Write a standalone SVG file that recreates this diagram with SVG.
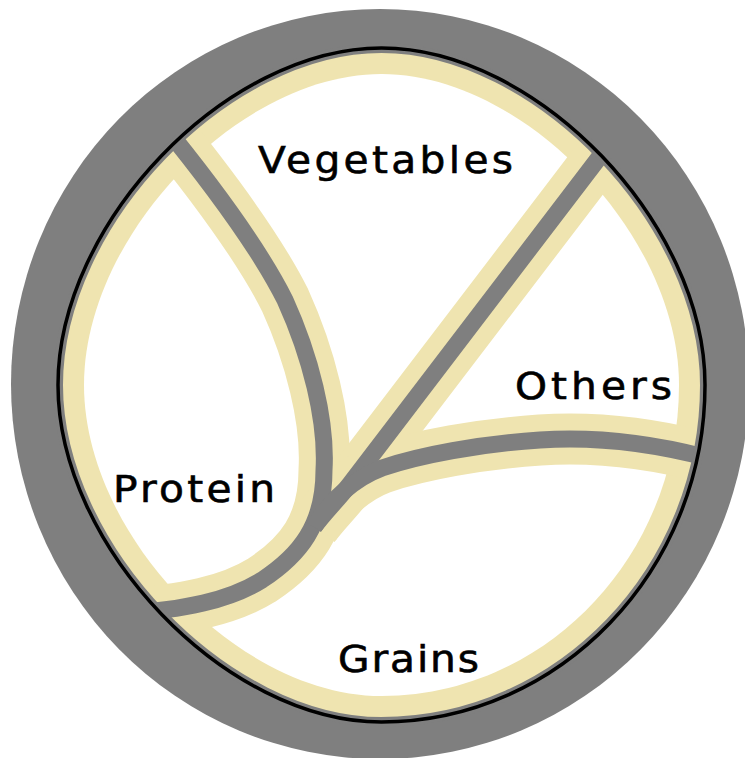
<svg xmlns="http://www.w3.org/2000/svg" width="745" height="758" viewBox="0 0 745 758">
<defs>
<style>
.ring{fill:#7f7f7f}
.plate{fill:#efe4b0}
.inner{fill:#fff}
.cream{fill:none;stroke:#efe4b0;stroke-width:51;stroke-linejoin:round}
.div{fill:none;stroke:#7f7f7f;stroke-width:17;stroke-linejoin:round}
.rim{fill:none;stroke:#7f7f7f;stroke-width:10}
.edge{fill:none;stroke:#000;stroke-width:3.5}
.label{font-family:"DejaVu Sans",Verdana,sans-serif;font-size:37px;fill:#000;stroke:#000;stroke-width:0.6}
</style>
<clipPath id="plateClip">
<path d="M58,385 C58,223.2 226.2,48 381.5,48 C536.8,48 705,223.2 705,385 C705,570.4 559.4,722 381.5,722 C226.2,722 58,546.8 58,385 Z"/>
</clipPath>
</defs>
<g id="plate">
<ellipse class="ring" cx="380" cy="384" rx="369" ry="375"/>
<path class="plate" d="M58,385 C58,223.2 226.2,48 381.5,48 C536.8,48 705,223.2 705,385 C705,570.4 559.4,722 381.5,722 C226.2,722 58,546.8 58,385 Z"/>
<path class="inner" d="M84,385 C84,235.7 238.7,74 381.5,74 C524.3,74 679,235.7 679,385 C679,556.1 545.1,696 381.5,696 C238.7,696 84,534.3 84,385 Z"/>
</g>
<g id="connectors" clip-path="url(#plateClip)">
<path class="cream" d="M160,121 C200,170 255,240 285,300 C310,355 327,420 324,470 C324,525 300,555 262,580 C230,600 185,610 120,614"/>
<path class="cream" d="M614,138 L350,484 C336,502 325,512 314,527"/>
<path class="cream" d="M712,459 C660,445 600,436 540,440 C480,444 420,455 382,468 C355,478 330,500 314,527"/>
<path class="div" d="M160,121 C200,170 255,240 285,300 C310,355 327,420 324,470 C324,525 300,555 262,580 C230,600 185,610 120,614"/>
<path class="div" d="M614,138 L350,484 C336,502 325,512 314,527"/>
<path class="div" d="M712,459 C660,445 600,436 540,440 C480,444 420,455 382,468 C355,478 330,500 314,527"/>
</g>
<g id="rim">
<path class="rim" d="M58,385 C58,223.2 226.2,48 381.5,48 C536.8,48 705,223.2 705,385 C705,570.4 559.4,722 381.5,722 C226.2,722 58,546.8 58,385 Z"/>
<path class="edge" d="M58,385 C58,223.2 226.2,48 381.5,48 C536.8,48 705,223.2 705,385 C705,570.4 559.4,722 381.5,722 C226.2,722 58,546.8 58,385 Z"/>
</g>
<g id="vegetables"><text class="label" transform="translate(258,173) scale(1.1,1)" textLength="231.8" lengthAdjust="spacing">Vegetables</text></g>
<g id="others"><text class="label" transform="translate(515,399) scale(1.1,1)" textLength="142.7" lengthAdjust="spacing">Others</text></g>
<g id="protein"><text class="label" transform="translate(113,502) scale(1.1,1)" textLength="147.3" lengthAdjust="spacing">Protein</text></g>
<g id="grains"><text class="label" transform="translate(338,672) scale(1.1,1)" textLength="128.2" lengthAdjust="spacing">Grains</text></g>
</svg>
